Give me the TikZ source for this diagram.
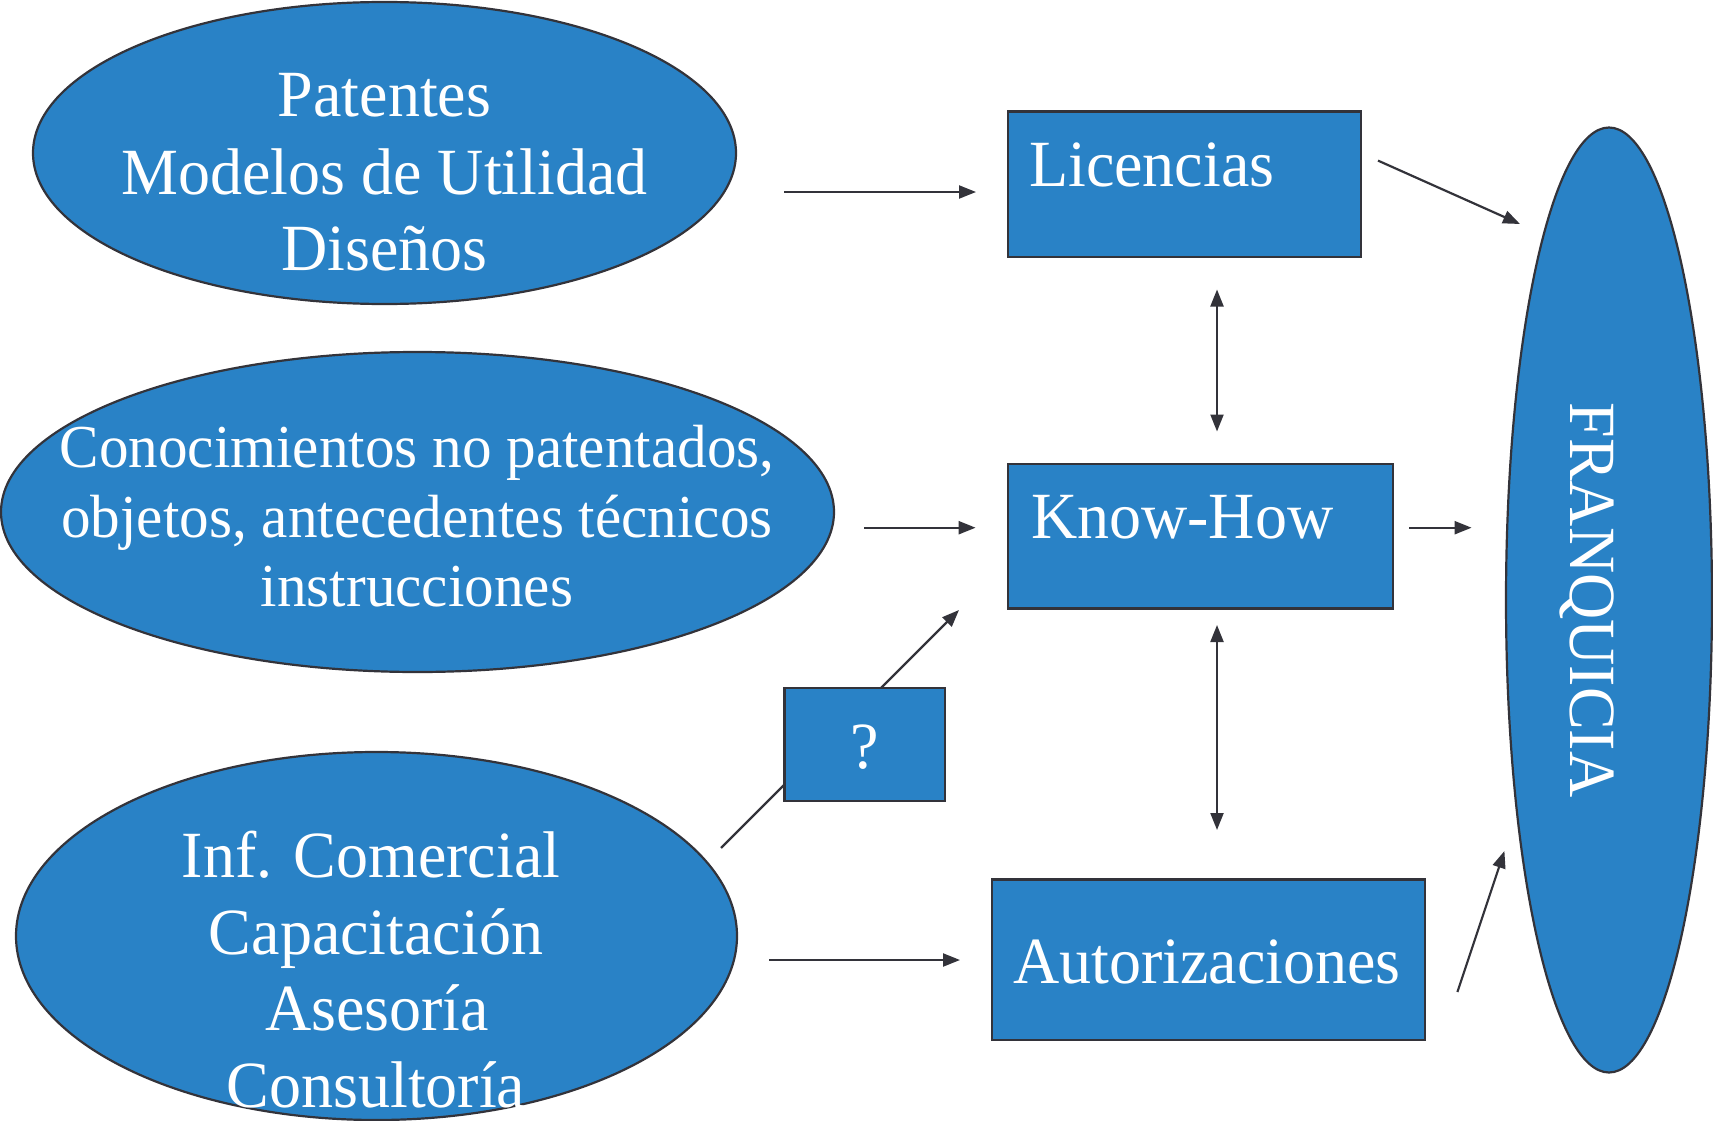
\documentclass[tikz,border=0pt]{standalone}
\usepackage{fontspec}
\setmainfont{Liberation Serif}[FakeStretch=0.97]
\usetikzlibrary{shapes.geometric,arrows.meta}
\definecolor{fillblue}{RGB}{41,130,198}
\definecolor{edgegray}{RGB}{51,51,58}
\begin{document}
\begin{tikzpicture}[x=1pt,y=-1pt,
  blob/.style={ellipse,draw=edgegray,line width=2.2pt,fill=fillblue,inner sep=0pt},
  boxnode/.style={rectangle,draw=edgegray,line width=2.6pt,fill=fillblue,inner sep=0pt},
  lbl/.style={text=white,font=\fontsize{66}{76}\selectfont,inner sep=0pt,anchor=base},
  lblsmall/.style={lbl,font=\fontsize{61}{70}\selectfont},
  conn/.style={draw=edgegray,line width=2.2pt,-{Triangle[length=17pt,width=13pt]}},
  biconn/.style={draw=edgegray,line width=2.2pt,{Triangle[length=17pt,width=13pt]}-{Triangle[length=17pt,width=13pt]}}]
\useasboundingbox (0,0) rectangle (1713,1121);

% ellipses
\node[blob, minimum width=703pt, minimum height=302pt] (e1) at (384.5,153) {};
\node[blob, minimum width=833pt, minimum height=320pt] (e2) at (417.5,512) {};
\node[blob, minimum width=721pt, minimum height=368pt] (e3) at (376.5,936) {};
\node[blob, minimum width=206pt, minimum height=945pt] (fr) at (1609,600) {};

% boxes
\node[boxnode, minimum width=353pt, minimum height=145.5pt] (lic) at (1184.5,184.25) {};
\node[boxnode, minimum width=385pt, minimum height=144.5pt] (kh) at (1200.5,536.25) {};
\node[boxnode, minimum width=433pt, minimum height=160.5pt] (aut) at (1208.5,959.75) {};

% line behind the ? box
\coordinate (q1) at (721,848);
\coordinate (q2) at (959,610);
\draw[conn] (q1) -- (q2);
\node[boxnode, minimum width=160.5pt, minimum height=113pt] (qb) at (864.75,744.5) {};

% texts
\node[lbl] (t1a) at (384.5,117) {Patentes};
\node[lbl] (t1b) at (384.5,194.5) {Modelos de Utilidad};
\node[lbl] (t1c) at (384.5,270) {Diseños};
\node[lblsmall] (t2a) at (417,467.6) {Conocimientos no patentados,};
\node[lblsmall] (t2b) at (417,537.5) {objetos, antecedentes técnicos};
\node[lblsmall] (t2c) at (417,606.3) {instrucciones};
\node[lbl] (t3a) at (371,877) {Inf. Comercial};
\node[lbl] (t3b) at (376,954) {Capacitación};
\node[lbl] (t3c) at (377,1030) {Asesoría};
\node[lbl] (t3d) at (376,1107) {Consultoría};
\node[lbl, anchor=base west] (tlic) at (1029,186) {Licencias};
\node[lbl, anchor=base west] (tkh) at (1031,538) {Know-How};
\node[lbl] (taut) at (1207,983) {Autorizaciones};
\node[lbl] (tq) at (865,768) {?};
\node[lbl, rotate=-90] (tfr) at (1570,600) {FRANQUICIA};

% connectors
\coordinate (a1s) at (784,192);   \coordinate (a1e) at (976,192);
\coordinate (a2s) at (1378,160.6); \coordinate (a2e) at (1520,224);
\coordinate (a3s) at (1217,289.5); \coordinate (a3e) at (1217,431.5);
\coordinate (a4s) at (864,527.7); \coordinate (a4e) at (975.6,527.7);
\coordinate (a5s) at (1409,527.7); \coordinate (a5e) at (1471.6,527.7);
\coordinate (a6s) at (1217,625); \coordinate (a6e) at (1217,830);
\coordinate (a8s) at (769,960); \coordinate (a8e) at (960,960);
\coordinate (a9s) at (1457.4,992); \coordinate (a9e) at (1504.4,851);
\draw[conn] (a1s) -- (a1e);
\draw[conn] (a2s) -- (a2e);
\draw[biconn] (a3s) -- (a3e);
\draw[conn] (a4s) -- (a4e);
\draw[conn] (a5s) -- (a5e);
\draw[biconn] (a6s) -- (a6e);
\draw[conn] (a8s) -- (a8e);
\draw[conn] (a9s) -- (a9e);
\end{tikzpicture}
\end{document}
